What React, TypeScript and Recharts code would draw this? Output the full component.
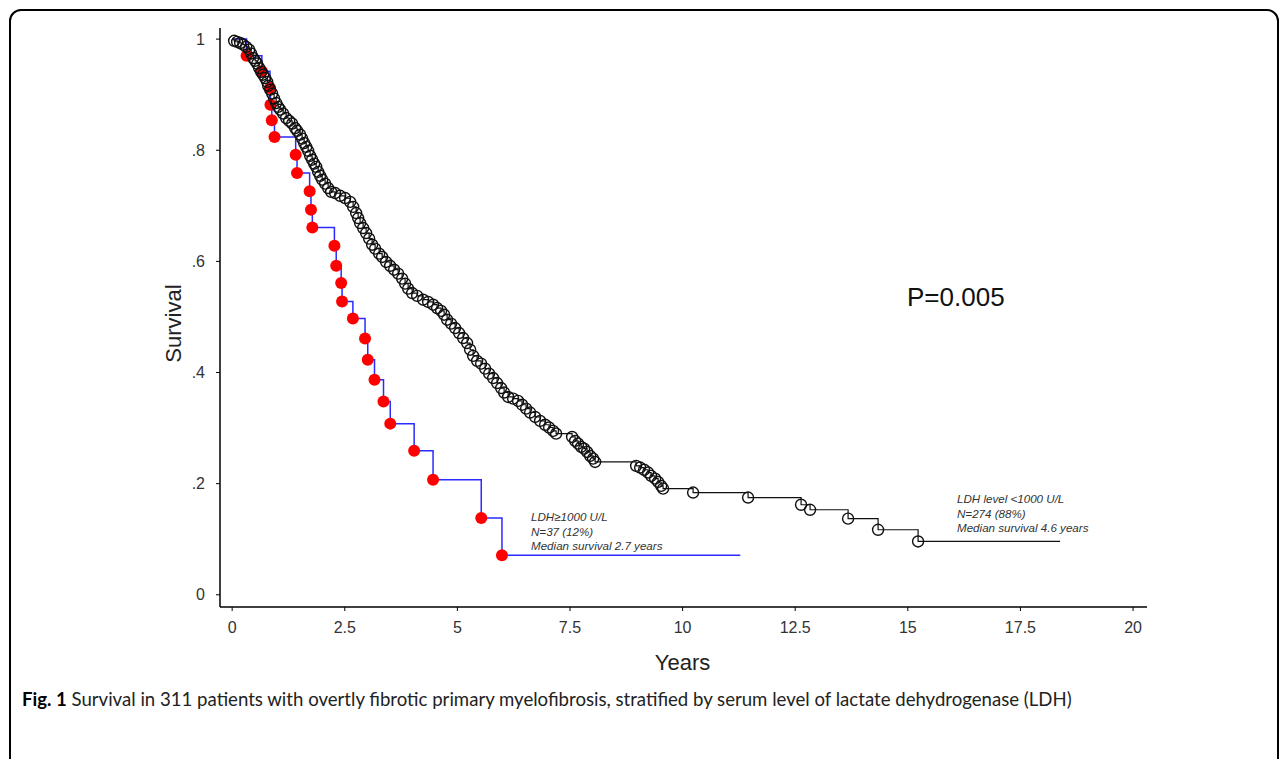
import { ComposedChart, Line, Scatter, XAxis, YAxis } from "recharts";

// axis ticks
const yearTicks = [0, 2.5, 5, 7.5, 10, 12.5, 15, 17.5, 20];
const yearTickLabels = ["0", "2.5", "5", "7.5", "10", "12.5", "15", "17.5", "20"];
const survivalTicks = [0, 0.2, 0.4, 0.6, 0.8, 1];
const survivalTickLabels = ["0", ".2", ".4", ".6", ".8", "1"];

// LDH >= 1000 U/L (blue step line, red marks)
const highLdhYears = [
  0.32, 0.66, 0.84, 0.85, 0.88, 0.94, 1.41, 1.44, 1.72, 1.75, 1.78, 2.27, 2.31,
  2.42, 2.44, 2.68, 2.95, 3.01, 3.16, 3.36, 3.51, 4.04, 4.46, 5.53, 5.99,
];
const highLdhSurvival = [
  0.97, 0.942, 0.912, 0.882, 0.854, 0.824, 0.792, 0.759, 0.726, 0.693, 0.661,
  0.628, 0.592, 0.561, 0.528, 0.497, 0.461, 0.423, 0.387, 0.348, 0.308, 0.259,
  0.207, 0.138, 0.071,
];
const highLdhFollowUp = 11.28;

// LDH < 1000 U/L (black step line, open circles)
const lowLdhYears = [
  0.044, 0.111, 0.178, 0.244, 0.311, 0.377, 0.422, 0.466, 0.511, 0.555, 0.599,
  0.644, 0.688, 0.733, 0.777, 0.799, 0.844, 0.888, 0.932, 0.977, 1.021, 1.065,
  1.132, 1.199, 1.265, 1.332, 1.398, 1.443, 1.509, 1.554, 1.598, 1.643, 1.687,
  1.731, 1.776, 1.82, 1.865, 1.909, 1.953, 1.998, 2.064, 2.131, 2.198, 2.286,
  2.397, 2.508, 2.619, 2.686, 2.753, 2.797, 2.841, 2.908, 2.974, 3.041, 3.108,
  3.174, 3.263, 3.33, 3.418, 3.507, 3.596, 3.685, 3.774, 3.84, 3.907, 3.996,
  4.107, 4.24, 4.351, 4.462, 4.55, 4.639, 4.706, 4.772, 4.861, 4.95, 5.039,
  5.128, 5.216, 5.283, 5.35, 5.438, 5.527, 5.616, 5.705, 5.794, 5.882, 5.971,
  6.038, 6.127, 6.238, 6.348, 6.437, 6.526, 6.615, 6.726, 6.837, 6.948, 7.037,
  7.125, 7.192, 7.547, 7.614, 7.68, 7.747, 7.814, 7.88, 7.947, 8.013, 8.058,
  8.968, 9.057, 9.145, 9.234, 9.301, 9.39, 9.456, 9.523, 9.567, 10.233, 11.454,
  12.63, 12.83, 13.674, 14.34, 15.228,
];
const lowLdhSurvival = [
  0.997, 0.995, 0.993, 0.99, 0.986, 0.981, 0.974, 0.966, 0.961, 0.956, 0.948,
  0.941, 0.936, 0.93, 0.923, 0.916, 0.909, 0.902, 0.893, 0.885, 0.878, 0.873,
  0.866, 0.858, 0.853, 0.848, 0.84, 0.835, 0.828, 0.821, 0.813, 0.806, 0.799,
  0.79, 0.783, 0.776, 0.77, 0.761, 0.754, 0.747, 0.74, 0.732, 0.725, 0.723,
  0.718, 0.714, 0.707, 0.698, 0.687, 0.678, 0.669, 0.66, 0.651, 0.641, 0.63,
  0.623, 0.614, 0.608, 0.599, 0.592, 0.585, 0.578, 0.569, 0.56, 0.551, 0.543,
  0.538, 0.531, 0.527, 0.522, 0.516, 0.511, 0.504, 0.495, 0.488, 0.48, 0.471,
  0.462, 0.453, 0.441, 0.43, 0.421, 0.416, 0.407, 0.398, 0.39, 0.381, 0.372,
  0.364, 0.356, 0.353, 0.349, 0.342, 0.335, 0.328, 0.32, 0.313, 0.306, 0.301,
  0.295, 0.29, 0.284, 0.277, 0.272, 0.266, 0.263, 0.257, 0.25, 0.245, 0.239,
  0.232, 0.229, 0.225, 0.22, 0.214, 0.209, 0.203, 0.196, 0.191, 0.184, 0.175,
  0.162, 0.153, 0.137, 0.117, 0.096,
];
const lowLdhFollowUp = 18.38;

type Pt = { year: number; surv: number };

const toPoints = (years: number[], surv: number[]): Pt[] =>
  years.map((year, i) => ({ year, surv: surv[i] }));

const highMarks = toPoints(highLdhYears, highLdhSurvival);
const lowMarks = toPoints(lowLdhYears, lowLdhSurvival);

const highCurve: Pt[] = [
  { year: 0, surv: 1 },
  ...highMarks,
  { year: highLdhFollowUp, surv: highLdhSurvival[highLdhSurvival.length - 1] },
];
const lowCurve: Pt[] = [
  { year: 0, surv: 1 },
  ...lowMarks,
  { year: lowLdhFollowUp, surv: lowLdhSurvival[lowLdhSurvival.length - 1] },
];

const FONT = "'Liberation Sans', Arial, sans-serif";

const RedDot = (props: any) => (
  <circle cx={props.cx} cy={props.cy} r={6} fill="#ff0000" />
);
const OpenCircle = (props: any) => (
  <circle
    cx={props.cx}
    cy={props.cy}
    r={5.5}
    fill="none"
    stroke="#111"
    strokeWidth={1.4}
  />
);

const YLabel = (props: any) => {
  const vb = props.viewBox || { x: 0, y: 28, width: 220, height: 579 };
  const cx = vb.x + vb.width - 47;
  const cy = vb.y + vb.height / 2 + 6;
  return (
    <text
      x={cx}
      y={cy}
      transform={`rotate(-90, ${cx}, ${cy})`}
      textAnchor="middle"
      dominantBaseline="central"
      fontSize={22}
      fontFamily={FONT}
      fill="#222"
    >
      Survival
    </text>
  );
};

const XLabel = (props: any) => {
  const vb = props.viewBox || { x: 220, y: 607, width: 927, height: 152 };
  return (
    <text
      x={vb.x + vb.width / 2 - 1}
      y={vb.y + 63}
      textAnchor="middle"
      fontSize={22}
      fontFamily={FONT}
      fill="#222"
    >
      Years
    </text>
  );
};

const noteStyle: React.CSSProperties = {
  position: "absolute",
  fontFamily: FONT,
  fontStyle: "italic",
  fontSize: 11.6,
  lineHeight: "14.5px",
  color: "#333",
  whiteSpace: "nowrap",
};

export default function App() {
  return (
    <div
      style={{
        position: "absolute",
        left: 0,
        top: 0,
        width: 1284,
        height: 759,
        overflow: "hidden",
        background: "#fff",
      }}
    >
      <div
        style={{
          position: "absolute",
          left: 9,
          top: 9,
          width: 1266,
          height: 820,
          border: "2px solid #000",
          borderRadius: 12,
        }}
      />
      <div style={{ position: "absolute", left: 0, top: 0 }}>
        <ComposedChart
          width={1284}
          height={759}
          margin={{ top: 28, right: 137, left: 0, bottom: 0 }}
          style={{ fontFamily: FONT }}
        >
          <XAxis
            dataKey="year"
            type="number"
            domain={[-0.27, 20.31]}
            allowDataOverflow
            ticks={yearTicks}
            interval={0}
            tickFormatter={(v: number) => yearTickLabels[yearTicks.indexOf(v)]}
            height={152}
            tickSize={4}
            tickMargin={11}
            axisLine={{ stroke: "#000", strokeWidth: 1.5 }}
            tickLine={{ stroke: "#000", strokeWidth: 1 }}
            tick={{ fill: "#333", fontSize: 16, fontFamily: FONT }}
            label={XLabel}
          />
          <YAxis
            dataKey="surv"
            type="number"
            domain={[-0.022, 1.02]}
            allowDataOverflow
            ticks={survivalTicks}
            interval={0}
            tickFormatter={(v: number) =>
              survivalTickLabels[survivalTicks.indexOf(v)]
            }
            width={220}
            tickSize={4}
            tickMargin={11}
            axisLine={{ stroke: "#000", strokeWidth: 1.5 }}
            tickLine={{ stroke: "#000", strokeWidth: 1 }}
            tick={{ fill: "#333", fontSize: 16, fontFamily: FONT }}
            label={YLabel}
          />
          <Line
            data={highCurve}
            dataKey="surv"
            type="stepAfter"
            stroke="#2b2bff"
            strokeWidth={1.5}
            dot={false}
            activeDot={false}
            isAnimationActive={false}
          />
          <Scatter
            data={highMarks}
            dataKey="surv"
            shape={RedDot}
            isAnimationActive={false}
          />
          <Line
            data={lowCurve}
            dataKey="surv"
            type="stepAfter"
            stroke="#111"
            strokeWidth={1.2}
            dot={false}
            activeDot={false}
            isAnimationActive={false}
          />
          <Scatter
            data={lowMarks}
            dataKey="surv"
            shape={OpenCircle}
            isAnimationActive={false}
          />
        </ComposedChart>
      </div>
      <div
        style={{
          position: "absolute",
          left: 907,
          top: 284,
          fontFamily: FONT,
          fontSize: 26,
          lineHeight: "26px",
          color: "#111",
          whiteSpace: "nowrap",
        }}
      >
        P=0.005
      </div>
      <div style={{ ...noteStyle, left: 531, top: 510 }}>
        <div>LDH≥1000 U/L</div>
        <div>N=37 (12%)</div>
        <div>Median survival 2.7 years</div>
      </div>
      <div style={{ ...noteStyle, left: 957, top: 492 }}>
        <div>LDH level &lt;1000 U/L</div>
        <div>N=274 (88%)</div>
        <div>Median survival 4.6 years</div>
      </div>
      <div
        style={{
          position: "absolute",
          left: 22,
          top: 687,
          fontFamily: "Lato, 'Open Sans', sans-serif",
          fontSize: 18.6,
          lineHeight: "24px",
          color: "#222",
          whiteSpace: "nowrap",
        }}
      >
        <b style={{ color: "#000" }}>Fig. 1</b> Survival in 311 patients with
        overtly fibrotic primary myelofibrosis, stratified by serum level of
        lactate dehydrogenase (LDH)
      </div>
    </div>
  );
}
